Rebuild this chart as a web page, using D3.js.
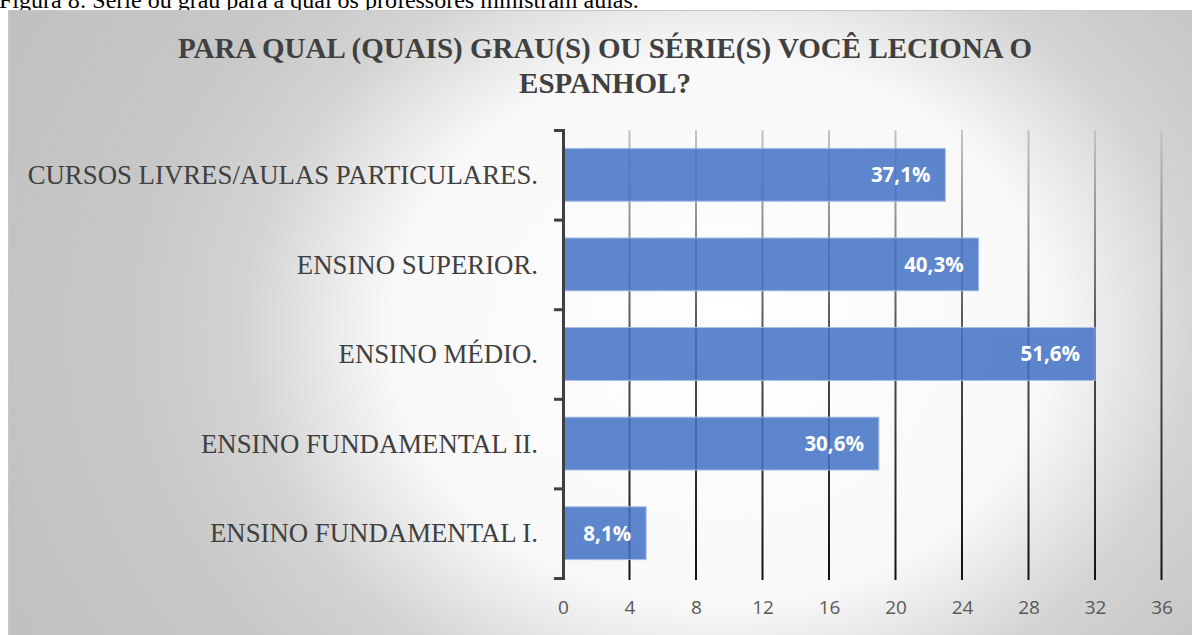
<!DOCTYPE html>
<html>
<head>
<meta charset="utf-8">
<script src="https://cdn.jsdelivr.net/npm/d3@7"></script>
<style>
  html, body { margin: 0; padding: 0; background: #fff; overflow: hidden; }
</style>
</head>
<body>
<script>
// data (62 answers in total)
var categories = ["ENSINO FUNDAMENTAL I.", "ENSINO FUNDAMENTAL II.", "ENSINO MÉDIO.",
                  "ENSINO SUPERIOR.", "CURSOS LIVRES/AULAS PARTICULARES."];
var counts = [5, 19, 32, 25, 23];
var percentLabels = ["8,1%", "30,6%", "51,6%", "40,3%", "37,1%"];
var xTicks = [0, 4, 8, 12, 16, 20, 24, 28, 32, 36];
var titleLines = ["PARA QUAL (QUAIS) GRAU(S) OU SÉRIE(S) VOCÊ LECIONA O", "ESPANHOL?"];
var caption = "Figura 8: Série ou grau para a qual os professores ministram aulas.";

var W = 1192, H = 635;
var plot = {left: 563, right: 1161.5, top: 130, bottom: 578};
var serif = "'Liberation Serif', 'Times New Roman', 'DejaVu Serif', serif";

var data = categories.map(function(c, i) {
    return {cat: c, value: counts[i], label: percentLabels[i]};
});

//scales
var x = d3.scaleLinear().domain([0, 36]).range([plot.left, plot.right]);
var y = d3.scaleBand()
    .domain(categories.slice().reverse())
    .range([plot.top, plot.bottom])
    .paddingInner(0.41)
    .paddingOuter(0.205);
var yEdge = d3.scaleLinear().domain([0, categories.length]).range([plot.bottom, plot.top]);

var svg = d3.select("body").append("svg")
    .attr("width", W)
    .attr("height", H);

var defs = svg.append("defs");

//radial background of the chart box
var bg = defs.append("radialGradient")
    .attr("id", "bg")
    .attr("gradientUnits", "userSpaceOnUse")
    .attr("cx", 720).attr("cy", 330).attr("r", 810)
    .attr("gradientTransform", "translate(720,330) scale(1,0.83) translate(-720,-330)");
[[0, "#ffffff"], [0.41, "#f8f8f8"], [0.59, "#d3d3d3"], [0.74, "#c7c7c7"], [1, "#c0c0c0"]]
    .forEach(function(s) {
        bg.append("stop").attr("offset", s[0]).attr("stop-color", s[1]);
    });

//gridlines fade from light at the top to black at the bottom
var gl = defs.append("linearGradient")
    .attr("id", "gridGrad")
    .attr("gradientUnits", "userSpaceOnUse")
    .attr("x1", 0).attr("y1", plot.top)
    .attr("x2", 0).attr("y2", plot.bottom);
[[0, "#c4c4c4"], [0.45, "#555555"], [1, "#111111"]].forEach(function(s) {
    gl.append("stop").attr("offset", s[0]).attr("stop-color", s[1]);
});

//caption above the chart (cut off at the top, as in the source)
svg.append("text")
    .attr("x", -1)
    .attr("y", 8)
    .attr("font-family", serif)
    .attr("font-size", 24)
    .style("fill", "#000")
    .text(caption);

//chart box
svg.append("rect")
    .attr("x", 8.5)
    .attr("y", 10.5)
    .attr("width", W + 20)
    .attr("height", H + 20)
    .attr("fill", "url(#bg)")
    .attr("stroke", "#c8c8c8")
    .attr("stroke-width", 1);

//title
svg.append("text")
    .attr("text-anchor", "middle")
    .attr("font-family", serif)
    .attr("font-weight", "bold")
    .attr("font-size", 29)
    .style("fill", "#404040")
    .selectAll("tspan")
    .data(titleLines)
    .enter().append("tspan")
    .attr("x", 605)
    .attr("y", function(d, i) { return 58 + i * 35; })
    .text(function(d) { return d; });

//vertical gridlines
svg.append("g")
    .selectAll("line")
    .data(xTicks.slice(1))
    .enter().append("line")
    .attr("x1", function(d) { return x(d); })
    .attr("x2", function(d) { return x(d); })
    .attr("y1", plot.top)
    .attr("y2", plot.bottom + 2)
    .attr("stroke", "url(#gridGrad)")
    .attr("stroke-width", 2);

//bars
svg.append("g")
    .selectAll("rect")
    .data(data)
    .enter().append("rect")
    .attr("x", x(0))
    .attr("y", function(d) { return y(d.cat); })
    .attr("width", function(d) { return x(d.value) - x(0); })
    .attr("height", y.bandwidth())
    .attr("fill", "#4472c4")
    .attr("fill-opacity", 0.86)
    .attr("stroke", "#a9bde6")
    .attr("stroke-width", 1);

//value labels inside the bar ends
svg.append("g")
    .selectAll("text")
    .data(data)
    .enter().append("text")
    .attr("x", function(d) { return x(d.value) - 15; })
    .attr("y", function(d) { return y(d.cat) + y.bandwidth() / 2; })
    .attr("dy", "0.36em")
    .attr("text-anchor", "end")
    .style("font", "bold 20.5px 'Open Sans', sans-serif")
    .style("fill", "#ffffff")
    .text(function(d) { return d.label; });

//x axis tick labels
var xAxis = svg.append("g")
    .attr("transform", "translate(0," + (plot.bottom + 22) + ")")
    .call(d3.axisBottom(x).tickValues(xTicks).tickSize(0).tickPadding(0));
xAxis.select(".domain").remove();
xAxis.selectAll("text")
    .attr("dy", "0.71em")
    .style("font", "19px 'Open Sans', sans-serif")
    .style("fill", "#595959");

//category labels
var yAxis = svg.append("g")
    .attr("transform", "translate(" + plot.left + ",0)")
    .call(d3.axisLeft(y).tickSize(0).tickPadding(25));
yAxis.select(".domain").remove();
yAxis.selectAll("text")
    .attr("dy", "0.34em")
    .attr("font-family", serif)
    .attr("font-size", 26.8)
    .style("fill", "#404040");

//category axis line with ticks on the band edges
var edgeAxis = svg.append("g")
    .attr("transform", "translate(" + plot.left + ",0)")
    .call(d3.axisLeft(yEdge).ticks(categories.length).tickSize(9).tickSizeOuter(9).tickFormat(""));
edgeAxis.selectAll("path, line")
    .attr("stroke", "#404040")
    .attr("stroke-width", 3);
</script>
</body>
</html>
